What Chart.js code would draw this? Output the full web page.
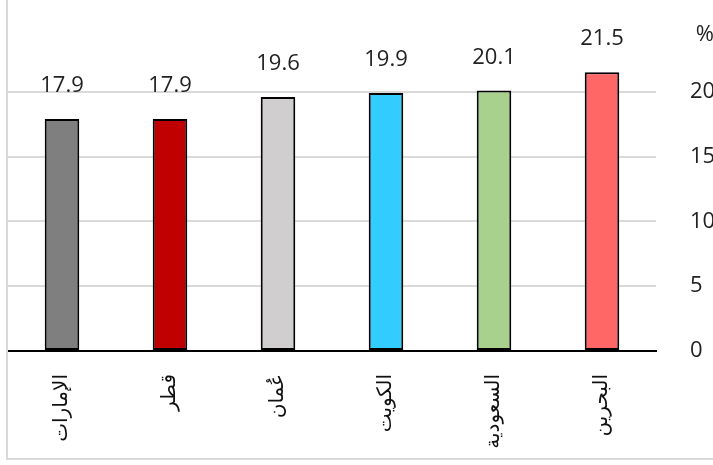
<!DOCTYPE html>
<html>
<head>
<meta charset="utf-8">
<script src="https://cdn.jsdelivr.net/npm/chart.js@4/dist/chart.umd.min.js"></script>
<style>
  html, body { margin: 0; padding: 0; overflow: hidden; background: #fff; }
  #frame { position: absolute; left: 6px; top: -10px; width: 760px; height: 466px; border: 2px solid #d9d9d9; }
  #wrap { position: absolute; left: 8px; top: 0; width: 740px; height: 465px; }
</style>
</head>
<body>
<div id="frame"></div>
<div id="wrap"><canvas id="canvas"></canvas></div>
<script>
var countries = ['الإمارات', 'قطر', 'عُمان', 'الكويت', 'السعودية', 'البحرين'];
var values = [17.9, 17.9, 19.6, 19.9, 20.1, 21.5];
var barColors = ['#7f7f7f', '#c00000', '#d0cece', '#33ccff', '#a9d18e', '#ff6666'];
var yTicks = [0, 5, 10, 15, 20];
var unitLabel = ' %';
var unitPos = 24.4;   // where the unit sits on the value axis

// values written above each bar
var valueLabels = {
    id: 'valueLabels',
    afterDatasetsDraw: function(chart) {
        var ctx = chart.ctx;
        var meta = chart.getDatasetMeta(0);
        ctx.save();
        ctx.font = '22px "Open Sans"';
        ctx.fillStyle = '#222';
        ctx.textAlign = 'center';
        ctx.textBaseline = 'alphabetic';
        meta.data.forEach(function(bar, i) {
            ctx.fillText(values[i].toFixed(1), bar.x, bar.y - 27);
        });
        ctx.restore();
    }
};

var config = {
    type: 'bar',
    data: {
        labels: countries,
        datasets: [{
            data: values,
            backgroundColor: barColors,
            borderColor: '#000',
            borderWidth: 2,
            borderSkipped: false,
            barPercentage: 0.32,
            categoryPercentage: 1
        }]
    },
    options: {
        responsive: true,
        maintainAspectRatio: false,
        animation: false,
        layout: { padding: { top: 27, left: 0, right: 0, bottom: 0 } },
        plugins: {
            legend: { display: false },
            tooltip: { enabled: false }
        },
        scales: {
            x: {
                grid: { display: false },
                border: { display: true, color: '#000', width: 2 },
                ticks: {
                    minRotation: 90,
                    maxRotation: 90,
                    padding: 15,
                    color: '#111',
                    font: { family: '"DejaVu Sans"', size: 20 }
                },
                afterFit: function(scale) { scale.height = 114; }
            },
            y: {
                position: 'right',
                min: 0,
                max: 25,
                afterBuildTicks: function(scale) {
                    scale.ticks = yTicks.concat([unitPos]).map(function(v) { return { value: v }; });
                },
                grid: {
                    drawTicks: false,
                    lineWidth: 2,
                    color: function(c) {
                        if (c.tick.value === unitPos) return 'rgba(0,0,0,0)';
                        if (c.tick.value === 0) return '#000';
                        return '#d9d9d9';
                    }
                },
                border: { display: false },
                ticks: {
                    padding: 34,
                    color: '#222',
                    font: { family: '"Open Sans"', size: 22 },
                    callback: function(v) { return v === unitPos ? unitLabel : v; }
                },
                afterFit: function(scale) {
                    scale.width = 92;
                    scale.paddingTop = 0;
                    scale.paddingBottom = 0;
                }
            }
        }
    },
    plugins: [valueLabels]
};

window.onload = function() {
    var ctx = document.getElementById('canvas').getContext('2d');
    window.myBar = new Chart(ctx, config);
};
</script>
</body>
</html>
